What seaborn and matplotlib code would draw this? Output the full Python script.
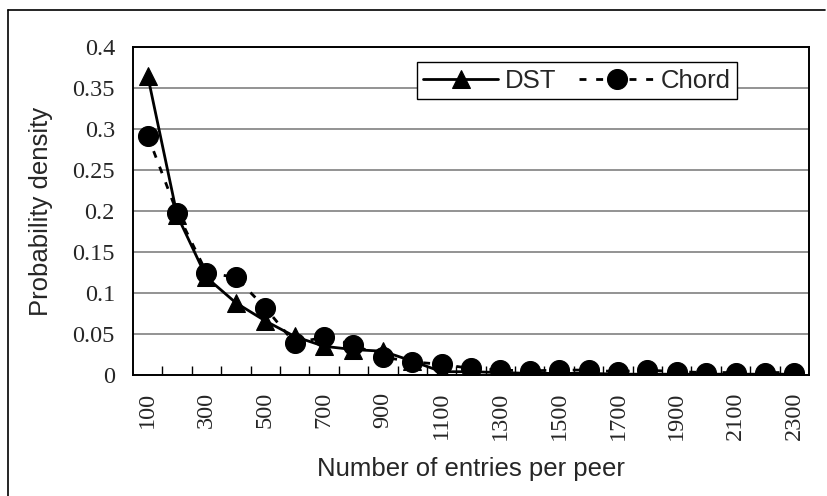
import numpy as np
import pandas as pd
import matplotlib
matplotlib.use("Agg")
import matplotlib.pyplot as plt
from matplotlib.lines import Line2D
import seaborn as sns

# Number of entries per peer (category axis)
entries = [100, 200, 300, 400, 500, 600, 700, 800, 900, 1000, 1100, 1200,
           1300, 1400, 1500, 1600, 1700, 1800, 1900, 2000, 2100, 2200, 2300]

# Probability density for each scheme
dst = [0.365, 0.195, 0.119, 0.088, 0.066, 0.047, 0.035, 0.031, 0.029, 0.017,
       0.004, 0.004, 0.003, 0.002, 0.002, 0.002, 0.001, 0.001, 0.001, 0.001,
       0.001, 0.001, 0.001]
chord = [0.292, 0.198, 0.125, 0.119, 0.082, 0.039, 0.046, 0.037, 0.022, 0.016,
         0.013, 0.008, 0.006, 0.005, 0.006, 0.006, 0.004, 0.006, 0.004, 0.003,
         0.003, 0.003, 0.003]

y_ticks = [0, 0.05, 0.1, 0.15, 0.2, 0.25, 0.3, 0.35, 0.4]

df = pd.DataFrame({
    "entries": [str(e) for e in entries],
    "DST": dst,
    "Chord": chord,
})

sns.set_style("white")
plt.rcParams["font.family"] = ["Liberation Sans", "DejaVu Sans"]

W, H = 828, 496
fig = plt.figure(figsize=(W / 100, H / 100), dpi=100)
ax = fig.add_axes([133 / W, 1 - 375 / H, 676 / W, 328 / H])

sns.lineplot(data=df, x="entries", y="DST", ax=ax, color="black",
             linewidth=2.0, marker="^", markersize=12.6,
             markeredgecolor="black", markerfacecolor="black",
             label="DST", sort=False, zorder=3)
sns.lineplot(data=df, x="entries", y="Chord", ax=ax, color="black",
             linewidth=2.0, linestyle=(0, (2.5, 3.5)), marker="o",
             markersize=14.4, markeredgecolor="black",
             markerfacecolor="black", label="Chord", sort=False, zorder=4)

# Axes limits and ticks
n = len(entries)
ax.set_xlim(-0.5, n - 0.5)
ax.set_ylim(0, 0.4)
ax.set_yticks(y_ticks)
ax.set_yticklabels([f"{v:g}" for v in y_ticks],
                   fontfamily="Liberation Serif", fontsize=17.5)
ax.set_xticks(range(0, n, 2))
ax.set_xticklabels([str(e) for e in entries[::2]], rotation=90,
                   fontfamily="Liberation Serif", fontsize=17.5)
ax.set_xticks(np.arange(0.5, n - 1, 1.0), minor=True)
ax.tick_params(axis="x", which="major", length=0, pad=12)
ax.tick_params(axis="x", which="minor", direction="in", length=6.5,
               width=1.0, color="black", bottom=True)
ax.tick_params(axis="y", which="major", length=0, pad=13)

ax.yaxis.grid(True, color="#808080", linewidth=1.2)
ax.xaxis.grid(False)
ax.set_axisbelow(True)
for s in ax.spines.values():
    s.set_color("black")
    s.set_linewidth(1.4)
    s.set_visible(True)

ax.set_xlabel("Number of entries per peer", fontsize=18.5, labelpad=12)
ax.set_ylabel("Probability density", fontsize=18.5, labelpad=14)

leg = ax.legend(loc="upper left", bbox_to_anchor=(0.420, 0.954),
                borderaxespad=0, ncol=2, fontsize=18.5, frameon=True,
                fancybox=False, edgecolor="black", framealpha=1,
                handlelength=2.9, handletextpad=0.27, columnspacing=0.9,
                borderpad=0.25)
leg.get_frame().set_linewidth(1.0)
leg.set_zorder(10)

# Outer frame around the chart area
fig.add_artist(Line2D([8 / W, 825 / W], [1 - 10 / H, 1 - 10 / H],
                      transform=fig.transFigure, color="black", lw=1.2))
fig.add_artist(Line2D([8 / W, 8 / W], [1 - 10 / H, 0],
                      transform=fig.transFigure, color="black", lw=1.2))

fig.savefig("out.png", dpi=100, facecolor="white")
